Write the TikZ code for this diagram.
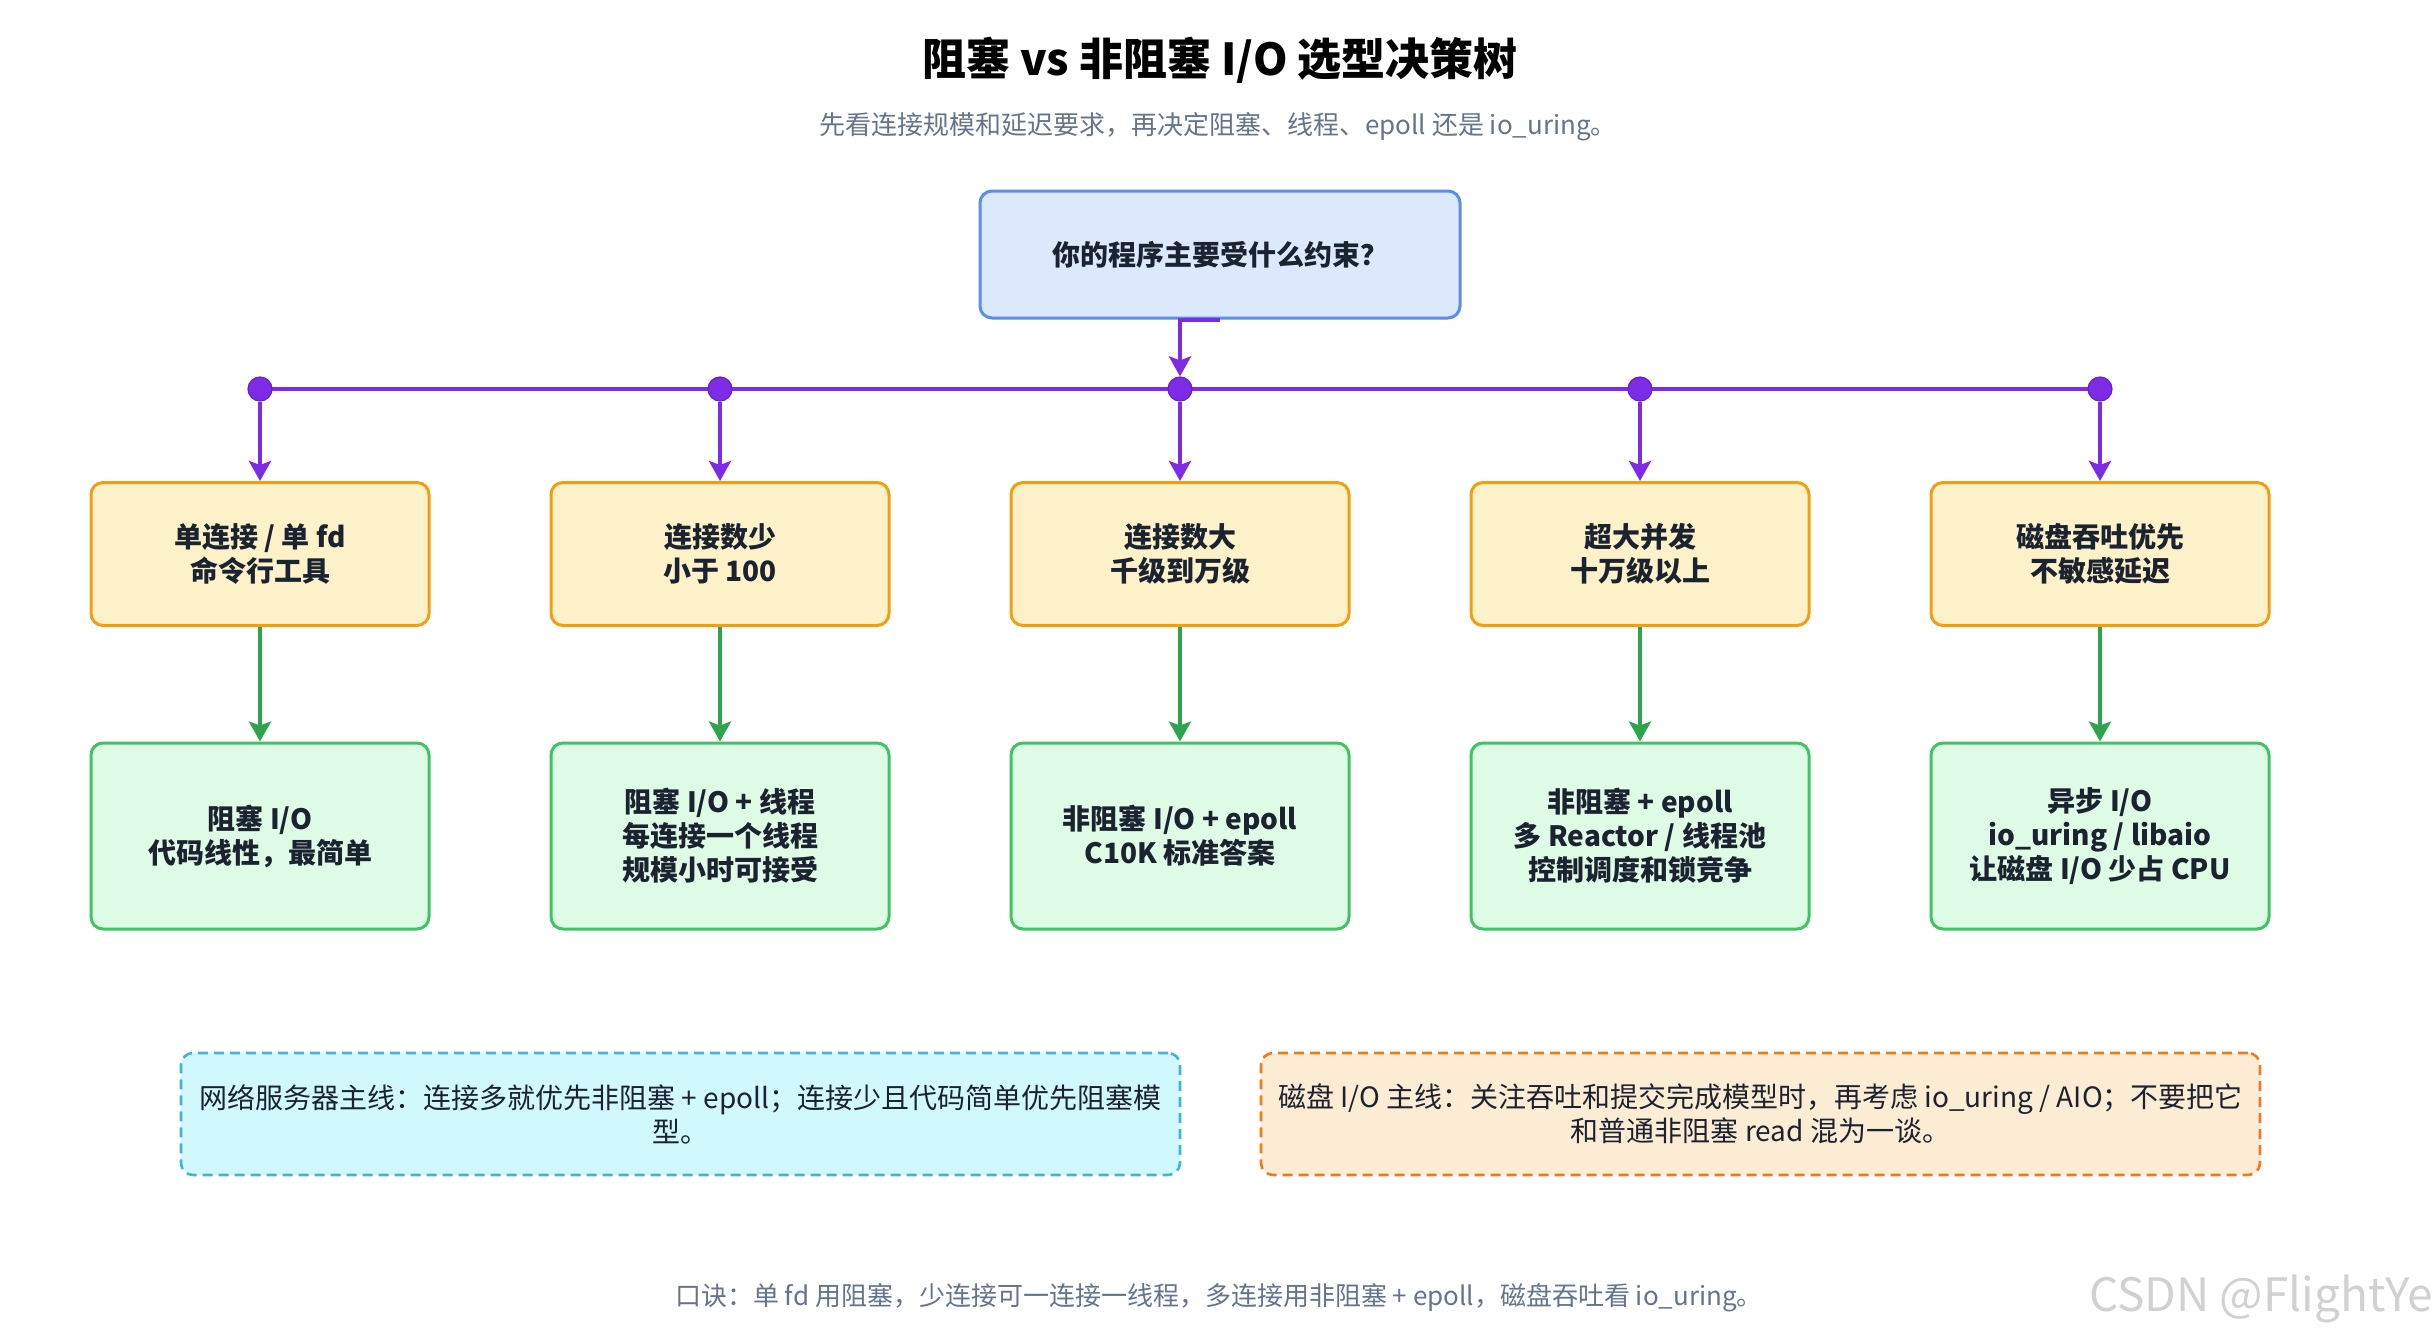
\documentclass[tikz,border=0pt]{standalone}
\usepackage{fontspec}
\setmainfont{Noto Sans CJK SC}
\usetikzlibrary{arrows.meta,positioning}

\definecolor{ink}{HTML}{1B2230}
\definecolor{muted}{HTML}{64748B}
\definecolor{askfill}{HTML}{DCE8FC}
\definecolor{askline}{HTML}{5B8DEF}
\definecolor{casefill}{HTML}{FCF1C8}
\definecolor{caseline}{HTML}{F29F0F}
\definecolor{pickfill}{HTML}{DEFBE6}
\definecolor{pickline}{HTML}{3FC463}
\definecolor{bus}{HTML}{7E2BE6}
\definecolor{busedge}{HTML}{6A1FCB}
\definecolor{go}{HTML}{2EA44F}
\definecolor{netfill}{HTML}{D1F8FC}
\definecolor{netline}{HTML}{3CB8D3}
\definecolor{diskfill}{HTML}{FDECD4}
\definecolor{diskline}{HTML}{F07A1E}

\tikzset{
  boxbase/.style={rounded corners=6pt, line width=1.5pt, align=center, text=ink,
    font=\bfseries\fontsize{14}{17}\selectfont},
  askbox/.style={boxbase, draw=askline, fill=askfill, minimum width=240pt, minimum height=63.5pt},
  casebox/.style={boxbase, draw=caseline, fill=casefill, minimum width=169pt, minimum height=71.5pt},
  pickbox/.style={boxbase, draw=pickline, fill=pickfill, minimum width=169pt, minimum height=93pt},
  notebox/.style={rounded corners=6pt, line width=1.3pt, dash pattern=on 5pt off 3pt, align=center,
    text=ink, font=\fontsize{14}{17}\selectfont, minimum width=499.5pt, minimum height=61pt},
  busline/.style={draw=bus, line width=2pt},
  busarrow/.style={draw=bus, line width=2pt, -{Stealth[length=10pt,width=11pt,inset=2pt]}},
  pickarrow/.style={draw=go, line width=1.8pt, -{Stealth[length=10pt,width=11pt,inset=2pt]}},
  busdot/.style={circle, fill=bus, draw=busedge, line width=0.6pt, inner sep=0pt, minimum size=12pt},
}

\begin{document}
\begin{tikzpicture}[x=0.5pt, y=-0.5pt]
  \useasboundingbox (0,0) rectangle (2432,1340);

  % heading
  \node[font=\bfseries\fontsize{22}{26}\selectfont, text=black] (title) at (1220,60) {阻塞 vs 非阻塞 I/O 选型决策树};
  \node[font=\fontsize{13}{16}\selectfont, text=muted] (subtitle) at (1218,127) {先看连接规模和延迟要求，再决定阻塞、线程、epoll 还是 io\_uring。};

  % root question
  \node[askbox] (ask) at (1220,254.5) {你的程序主要受什么约束？};

  % bus
  \foreach \i/\x in {1/260,2/720,3/1180,4/1640,5/2100}
    \coordinate (b\i) at (\x,389);
  \draw[busline] (b1) -- (b5);
  \foreach \i in {1,...,5}
    \node[busdot] (d\i) at (b\i) {};

  % constraints
  \node[casebox] (c1) at (260,554) {单连接 / 单 fd\\命令行工具};
  \node[casebox] (c2) at (720,554) {连接数少\\小于 100};
  \node[casebox] (c3) at (1180,554) {连接数大\\千级到万级};
  \node[casebox] (c4) at (1640,554) {超大并发\\十万级以上};
  \node[casebox] (c5) at (2100,554) {磁盘吞吐优先\\不敏感延迟};

  % choices
  \node[pickbox] (p1) at (260,836) {阻塞 I/O\\代码线性，最简单};
  \node[pickbox] (p2) at (720,836) {阻塞 I/O + 线程\\每连接一个线程\\规模小时可接受};
  \node[pickbox] (p3) at (1180,836) {非阻塞 I/O + epoll\\C10K 标准答案};
  \node[pickbox] (p4) at (1640,836) {非阻塞 + epoll\\多 Reactor / 线程池\\控制调度和锁竞争};
  \node[pickbox] (p5) at (2100,836) {异步 I/O\\io\_uring / libaio\\让磁盘 I/O 少占 CPU};

  \draw[busarrow] (ask.south) -| (d3.north);
  \foreach \i in {1,...,5} {
    \draw[busarrow] (d\i) -- (c\i.north);
    \draw[pickarrow] (c\i) -- (p\i);
  }

  % notes
  \node[notebox, draw=netline, fill=netfill] (netnote) at (680.5,1114)
    {网络服务器主线：连接多就优先非阻塞 + epoll；连接少且代码简单优先阻塞模\\型。};
  \node[notebox, draw=diskline, fill=diskfill] (disknote) at (1760.5,1114)
    {磁盘 I/O 主线：关注吞吐和提交完成模型时，再考虑 io\_uring / AIO；不要把它\\和普通非阻塞 read 混为一谈。};

  \node[font=\fontsize{13}{16}\selectfont, text=muted] (rhyme) at (1219,1298)
    {口诀：单 fd 用阻塞，少连接可一连接一线程，多连接用非阻塞 + epoll，磁盘吞吐看 io\_uring。};
  \node[anchor=west, font=\fontsize{23}{27}\selectfont, text=black!18] (mark) at (2082,1299) {CSDN @FlightYe};
\end{tikzpicture}
\end{document}
